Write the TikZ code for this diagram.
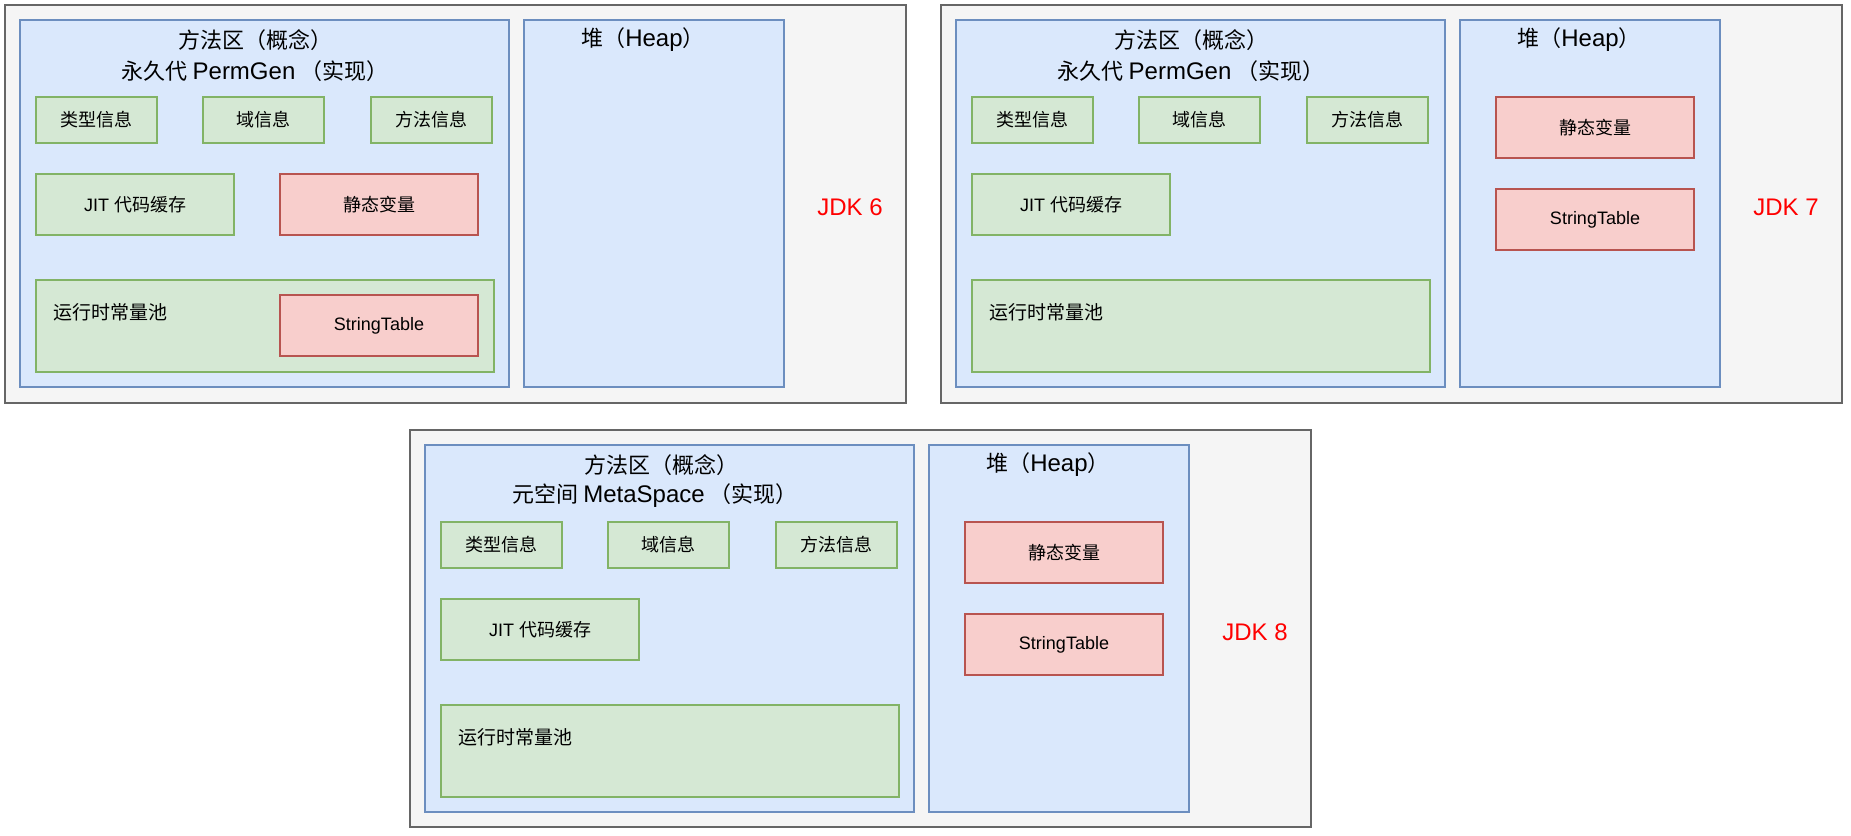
\documentclass[tikz,border=0pt]{standalone}
\usepackage{fontspec}
\setmainfont{Liberation Sans}
\newfontfamily\cjk{Noto Sans CJK SC}
\usetikzlibrary{positioning}

\definecolor{panelfill}{HTML}{F5F5F5}
\definecolor{paneldraw}{HTML}{666666}
\definecolor{areafill}{HTML}{DAE8FC}
\definecolor{areadraw}{HTML}{6C8EBF}
\definecolor{greenfill}{HTML}{D5E8D4}
\definecolor{greendraw}{HTML}{82B366}
\definecolor{redfill}{HTML}{F8CECC}
\definecolor{reddraw}{HTML}{B85450}

\newcommand\titlelatin[1]{{\rmfamily\fontsize{24}{28}\selectfont #1}}

\begin{document}
\begin{tikzpicture}[x=1pt,y=-1pt,line width=1.3pt,outer sep=0pt,
    panel/.style={draw=paneldraw,fill=panelfill,rectangle,inner sep=0pt,anchor=north west},
    area/.style={draw=areadraw,fill=areafill,rectangle,inner sep=0pt,anchor=north west},
    greenbox/.style={draw=greendraw,fill=greenfill,rectangle,inner sep=0pt,font=\fontsize{18}{22}\selectfont},
    redbox/.style={draw=reddraw,fill=redfill,rectangle,inner sep=0pt,font=\fontsize{18}{22}\selectfont},
    title/.style={inner sep=0pt,font=\fontsize{22}{26}\selectfont},
    pooltext/.style={inner sep=0pt,anchor=west,font=\fontsize{19}{23}\selectfont},
    jdk/.style={inner sep=0pt,text=red,font=\fontsize{24}{28}\selectfont}]

    \useasboundingbox (0,0) rectangle (1851,835);

    % JDK 6
    \begin{scope}[shift={(5,5)}]
        \node[panel,minimum width=901pt,minimum height=398pt] (panel6) at (0,0) {};
        \node[area,minimum width=489pt,minimum height=367pt] (area6) at (15,15) {};
        \node[area,minimum width=260pt,minimum height=367pt] (heap6) at (519,15) {};

        \node[title] (area6a) at (250,35) {\cjk 方法区（概念）};
        \node[title] (area6b) at (250,66) {\cjk 永久代 \titlelatin{PermGen} （实现）};
        \node[title] (heap6a) at (638,35) {\cjk 堆（\titlelatin{Heap}）};

        \node[greenbox,minimum width=121pt,minimum height=46pt,anchor=north west] (type6) at (31,92) {\cjk 类型信息};
        \node[greenbox,minimum width=121pt,minimum height=46pt] (field6) [right=46pt of type6] {\cjk 域信息};
        \node[greenbox,minimum width=121pt,minimum height=46pt] (method6) [right=47pt of field6] {\cjk 方法信息};

        \node[greenbox,minimum width=198pt,minimum height=61pt,below=31pt of type6.south west,anchor=north west] (jit6) {JIT {\cjk 代码缓存}};
        \node[redbox,minimum width=198pt,minimum height=61pt] (static6) [right=46pt of jit6] {\cjk 静态变量};

        \node[greenbox,minimum width=458pt,minimum height=92pt,below=45pt of jit6.south west,anchor=north west] (pool6) {};
        \node[pooltext] (pool6a) at ([xshift=17pt,yshift=-32pt]pool6.north west) {\cjk 运行时常量池};
        \node[redbox,minimum width=198pt,minimum height=61pt,anchor=north west] (table6) at ([yshift=-15pt]static6.west |- pool6.north) {StringTable};

        \node[jdk] (jdk6) at (845,202) {JDK 6};
    \end{scope}

    % JDK 7
    \begin{scope}[shift={(941,5)}]
        \node[panel,minimum width=901pt,minimum height=398pt] (panel7) at (0,0) {};
        \node[area,minimum width=489pt,minimum height=367pt] (area7) at (15,15) {};
        \node[area,minimum width=260pt,minimum height=367pt] (heap7) at (519,15) {};

        \node[title] (area7a) at (250,35) {\cjk 方法区（概念）};
        \node[title] (area7b) at (250,66) {\cjk 永久代 \titlelatin{PermGen} （实现）};
        \node[title] (heap7a) at (638,35) {\cjk 堆（\titlelatin{Heap}）};

        \node[greenbox,minimum width=121pt,minimum height=46pt,anchor=north west] (type7) at (31,92) {\cjk 类型信息};
        \node[greenbox,minimum width=121pt,minimum height=46pt] (field7) [right=46pt of type7] {\cjk 域信息};
        \node[greenbox,minimum width=121pt,minimum height=46pt] (method7) [right=47pt of field7] {\cjk 方法信息};

        \node[greenbox,minimum width=198pt,minimum height=61pt,below=31pt of type7.south west,anchor=north west] (jit7) {JIT {\cjk 代码缓存}};
        \node[greenbox,minimum width=458pt,minimum height=92pt,below=45pt of jit7.south west,anchor=north west] (pool7) {};
        \node[pooltext] (pool7a) at ([xshift=17pt,yshift=-32pt]pool7.north west) {\cjk 运行时常量池};

        \node[redbox,minimum width=198pt,minimum height=61pt,anchor=north west] (static7) at (555,92) {\cjk 静态变量};
        \node[redbox,minimum width=198pt,minimum height=61pt] (table7) [below=31pt of static7] {StringTable};

        \node[jdk] (jdk7) at (845,202) {JDK 7};
    \end{scope}

    % JDK 8
    \begin{scope}[shift={(410,430)}]
        \node[panel,minimum width=901pt,minimum height=397pt] (panel8) at (0,0) {};
        \node[area,minimum width=489pt,minimum height=367pt] (area8) at (15,15) {};
        \node[area,minimum width=260pt,minimum height=367pt] (heap8) at (519,15) {};

        \node[title] (area8a) at (251,35) {\cjk 方法区（概念）};
        \node[title] (area8b) at (245,66) {\cjk 元空间 \titlelatin{MetaSpace} （实现）};
        \node[title] (heap8a) at (638,35) {\cjk 堆（\titlelatin{Heap}）};

        \node[greenbox,minimum width=121pt,minimum height=46pt,anchor=north west] (type8) at (31,92) {\cjk 类型信息};
        \node[greenbox,minimum width=121pt,minimum height=46pt] (field8) [right=46pt of type8] {\cjk 域信息};
        \node[greenbox,minimum width=121pt,minimum height=46pt] (method8) [right=47pt of field8] {\cjk 方法信息};

        \node[greenbox,minimum width=198pt,minimum height=61pt,below=31pt of type8.south west,anchor=north west] (jit8) {JIT {\cjk 代码缓存}};
        \node[greenbox,minimum width=458pt,minimum height=92pt,below=45pt of jit8.south west,anchor=north west] (pool8) {};
        \node[pooltext] (pool8a) at ([xshift=17pt,yshift=-32pt]pool8.north west) {\cjk 运行时常量池};

        \node[redbox,minimum width=198pt,minimum height=61pt,anchor=north west] (static8) at (555,92) {\cjk 静态变量};
        \node[redbox,minimum width=198pt,minimum height=61pt] (table8) [below=31pt of static8] {StringTable};

        \node[jdk] (jdk8) at (845,202) {JDK 8};
    \end{scope}
\end{tikzpicture}
\end{document}
